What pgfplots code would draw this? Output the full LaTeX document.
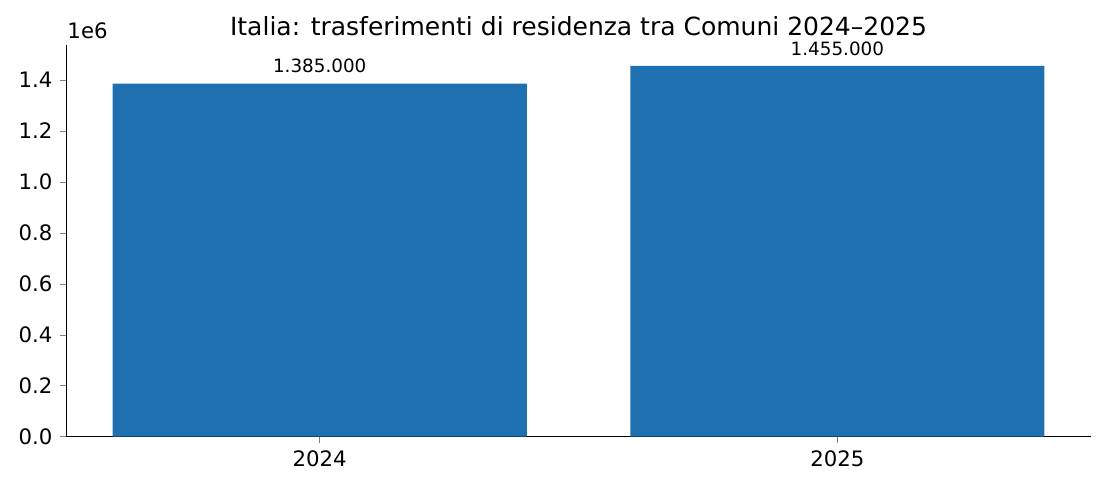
\documentclass[border=0pt]{standalone}
\usepackage{fontspec}
\setmainfont{DejaVu Sans}
\usepackage{pgfplots}
\pgfplotsset{compat=1.18}
\definecolor{barblue}{HTML}{1F70B0}
\begin{document}
\begin{tikzpicture}
\begin{axis}[
  scale only axis,
  width=492pt, height=188pt,
  xmin=-0.49, xmax=1.49,
  ymin=0, ymax=1537000,
  axis x line*=bottom, axis y line*=left,
  x axis line style={-}, y axis line style={-},
  tick align=outside,
  major tick length=3pt,
  xtick={0,1}, xticklabels={2024,2025},
  ytick={0,200000,400000,600000,800000,1000000,1200000,1400000},
  scaled y ticks=base 10:-6,
  ytick scale label code/.code={},
  yticklabel style={/pgf/number format/fixed,/pgf/number format/fixed zerofill,/pgf/number format/precision=1},
  /pgf/number format/assume math mode=true,
  tick label style={font=\fontsize{10.2}{12}\selectfont},
  title={Italia: trasferimenti di residenza tra Comuni 2024–2025},
  title style={font=\fontsize{12}{14}\selectfont, yshift=-5pt},
  ybar, bar width=0.8, bar shift=0pt,
  nodes near coords,
  point meta=explicit symbolic,
  every node near coord/.append style={font=\fontsize{8.8}{10}\selectfont, yshift=1.5pt},
  clip=false,
]
\addplot[fill=barblue, draw=none] coordinates {(0,1385000) [1.385.000] (1,1455000) [1.455.000]};
\node[anchor=south west, font=\fontsize{10.2}{12}\selectfont, inner sep=0pt] at ([xshift=0.5pt,yshift=3pt]rel axis cs:0,1) {1e6};
\end{axis}
\path ([shift={(-31.7pt,-25.4pt)}]current axis.south west) rectangle ([shift={(6.7pt,21.6pt)}]current axis.north east);
\end{tikzpicture}
\end{document}
